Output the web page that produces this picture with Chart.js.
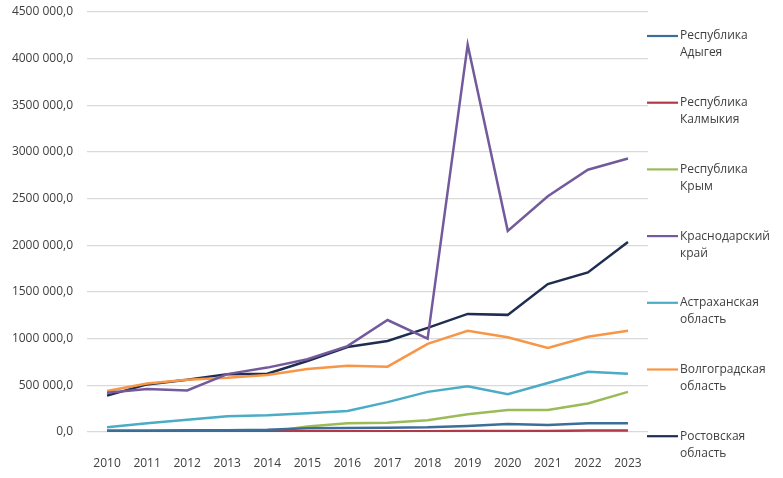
<!DOCTYPE html>
<html>
<head>
<meta charset="utf-8">
<script src="https://cdn.jsdelivr.net/npm/chart.js"></script>
<style>
body{margin:0;background:#fff;}
#wrap{width:783px;height:478px;position:relative;}
</style>
</head>
<body>
<div id="wrap"><canvas id="c"></canvas></div>
<script>
// years on the x axis
const years=["2010","2011","2012","2013","2014","2015","2016","2017","2018","2019","2020","2021","2022","2023"];
const regionNames=[
["Республика","Адыгея"],
["Республика","Калмыкия"],
["Республика","Крым"],
["Краснодарский","край"],
["Астраханская","область"],
["Волгоградская","область"],
["Ростовская","область"]
];
const adygea=[15000,16000,18000,20000,25000,40000,42000,45000,50000,65000,85000,75000,95000,95000];
const kalmykia=[5000,5000,6000,6000,7000,7000,8000,8000,9000,10000,11000,12000,15000,15000];
const krym=[null,null,null,null,0,60000,95000,100000,125000,190000,235000,235000,305000,430000];
const krasnodar=[420000,460000,445000,620000,690000,780000,920000,1200000,1000000,4150000,2155000,2525000,2810000,2930000];
const astrakhan=[50000,95000,130000,170000,180000,200000,225000,320000,430000,490000,405000,525000,645000,625000];
const volgograd=[440000,520000,560000,580000,610000,675000,710000,700000,945000,1085000,1015000,900000,1020000,1085000];
const rostov=[390000,510000,560000,620000,625000,760000,910000,975000,1115000,1265000,1255000,1585000,1710000,2035000];
const seriesValues=[adygea,kalmykia,krym,krasnodar,astrakhan,volgograd,rostov];
const colors=["#3c6e9a","#b23a48","#9bbb59","#735a9c","#4bacc6","#f79646","#1f2d50"];
const yTicks={min:0,max:4500000,step:500000};

function fmt(v){
if(v===0)return "0,0";
const th=Math.floor(v/1000);
const rest=String(v%1000).padStart(3,"0");
return th+" "+rest+",0";
}

// legend drawn by hand, labels are two lines each
const sideLegend={
id:"sideLegend",
afterDraw(chart){
const ctx=chart.ctx;
ctx.save();
ctx.font="12px 'Open Sans', sans-serif";
ctx.fillStyle="#404040";
ctx.textBaseline="middle";
chart.data.datasets.forEach((ds,i)=>{
const y=36+i*66.7;
ctx.strokeStyle=ds.borderColor;
ctx.lineWidth=2.2;
ctx.beginPath();
ctx.moveTo(647,y);
ctx.lineTo(678,y);
ctx.stroke();
ctx.fillText(regionNames[i][0],680,y);
ctx.fillText(regionNames[i][1],680,y+17);
});
ctx.restore();
}
};

new Chart(document.getElementById("c"),{
type:"line",
data:{
labels:years,
datasets:seriesValues.map((vals,i)=>({
label:regionNames[i].join(" "),
data:vals,
borderColor:colors[i],
backgroundColor:colors[i],
borderWidth:2.5,
pointRadius:0,
tension:0,
spanGaps:false
}))
},
options:{
responsive:true,
maintainAspectRatio:false,
animation:false,
layout:{padding:{top:12,right:135,bottom:0,left:0}},
plugins:{legend:{display:false},tooltip:{enabled:false}},
scales:{
x:{
offset:true,
grid:{display:false},
border:{display:false},
ticks:{color:"#404040",font:{family:"'Open Sans', sans-serif",size:12},maxRotation:0,padding:16},
afterFit(scale){scale.height=46;}
},
y:{
min:yTicks.min,
max:yTicks.max,
grid:{color:"#d9d9d9",lineWidth:1.3,drawTicks:false},
border:{display:false},
ticks:{stepSize:yTicks.step,color:"#404040",font:{family:"'Open Sans', sans-serif",size:12},padding:14,callback:v=>fmt(v)},
afterFit(scale){scale.width=87;scale.paddingTop=0;scale.paddingBottom=0;}
}
}
},
plugins:[sideLegend]
});
</script>
</body>
</html>
